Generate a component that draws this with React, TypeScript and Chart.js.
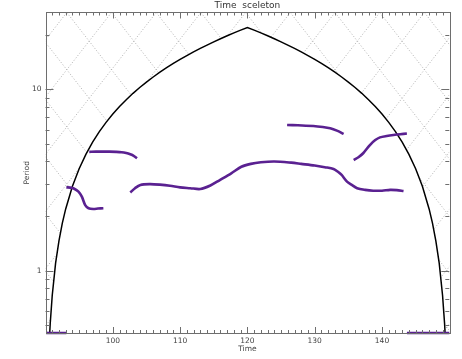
import React, { useEffect, useRef } from 'react';
import { Chart, registerables } from 'chart.js';

Chart.register(...registerables);

// ---- axes ----
const X_MIN = 90;
const X_MAX = 150;
const Y_MIN = 0.4535;
const Y_MAX = 26.5;
const xMajorTicks = [100, 110, 120, 130, 140];
const yMajorTicks = [1, 10];
const yMinorTicks = [0.5, 0.6, 0.7, 0.8, 0.9, 2, 3, 4, 5, 6, 7, 8, 9, 20];
const yLabelled = [1, 10];

// ---- cone of influence ----
const coiTime = [90.3, 90.5, 90.7, 91, 91.5, 92, 92.5, 93, 94, 95, 96, 97, 98, 99, 100, 101, 102, 103, 104, 105, 106, 107, 108, 109,
  110, 111, 112, 113, 114, 115, 116, 117, 118, 119, 120,
  121, 122, 123, 124, 125, 126, 127, 128, 129, 130, 131, 132, 133, 134, 135, 136, 137, 138, 139, 140, 141, 142, 143, 144, 145,
  146, 147, 147.5, 148, 148.5, 149, 149.3, 149.5, 149.7];
const coiPeriod = [0.22, 0.37, 0.51, 0.73, 1.1, 1.46, 1.83, 2.19, 2.92, 3.65, 4.38, 5.11, 5.84, 6.57, 7.3, 8.03, 8.76, 9.5, 10.23, 10.96,
  11.69, 12.42, 13.15, 13.88, 14.61, 15.34, 16.07, 16.8, 17.53, 18.26, 18.99, 19.72, 20.45, 21.18, 21.91,
  21.18, 20.45, 19.72, 18.99, 18.26, 17.53, 16.8, 16.07, 15.34, 14.61, 13.88, 13.15, 12.42, 11.69, 10.96, 10.23, 9.5, 8.76, 8.03,
  7.3, 6.57, 5.84, 5.11, 4.38, 3.65, 2.92, 2.19, 1.83, 1.46, 1.1, 0.73, 0.51, 0.37, 0.22];

// ---- skeleton ridges ----
const bottomLeftTime = [90.1, 93.1];
const bottomLeftPeriod = [0.4535, 0.4535];
const bottomRightTime = [143.7, 150];
const bottomRightPeriod = [0.4535, 0.4535];

const segATime = [96.5, 97.5, 98.5, 99.5, 100.5, 101.3, 102.0, 102.6, 103.1, 103.6];
const segAPeriod = [4.52, 4.53, 4.53, 4.53, 4.52, 4.5, 4.45, 4.38, 4.3, 4.17];

const segBTime = [93.1, 93.7, 94.2, 94.9, 95.4, 95.9, 96.4, 97.1, 97.8, 98.6];
const segBPeriod = [2.88, 2.87, 2.84, 2.73, 2.56, 2.3, 2.21, 2.19, 2.2, 2.21];

const segCTime = [102.6, 103.3, 104.1, 105.5, 107, 108.5, 110, 111.5, 113, 114.5, 115.9, 117.6, 119.1, 120.5, 122, 124, 126.5, 128,
  130, 131.5, 132.8, 133.5, 134.0, 134.8, 135.5, 136.3, 137.5, 138.7, 140, 141.2, 142.2, 143.2];
const segCPeriod = [2.7, 2.85, 2.97, 3.0, 2.98, 2.94, 2.88, 2.85, 2.82, 2.95, 3.16, 3.44, 3.74, 3.88, 3.96, 4.0, 3.94, 3.88,
  3.8, 3.72, 3.64, 3.5, 3.37, 3.1, 2.97, 2.85, 2.79, 2.76, 2.76, 2.79, 2.78, 2.75];

const segDTime = [125.9, 127.5, 129.8, 131.2, 132.3, 133.3, 134.3];
const segDPeriod = [6.36, 6.33, 6.28, 6.2, 6.1, 5.92, 5.68];

const segETime = [135.8, 136.5, 137.2, 138.2, 139.0, 139.7, 140.7, 141.7, 142.7, 143.7];
const segEPeriod = [4.07, 4.22, 4.44, 4.93, 5.25, 5.43, 5.53, 5.6, 5.65, 5.71];

const PURPLE = '#5a2191';
const FONT = 'DejaVu Sans';

const zip = (xs: number[], ys: number[]) => xs.map((x, i) => ({ x, y: ys[i] }));

const ridge = (xs: number[], ys: number[]) => ({
  data: zip(xs, ys),
  borderColor: PURPLE,
  borderWidth: 2.6,
  pointRadius: 0,
  tension: 0.3,
  clip: 3,
});

const hatchPlugin = {
  id: 'hatch',
  beforeDatasetsDraw(chart: any) {
    const { ctx, chartArea: a } = chart;
    const meta = chart.getDatasetMeta(chart.data.datasets.length - 1);
    const pts = meta.data;
    if (!pts || !pts.length) return;
    const w = a.right - a.left;
    const h = a.bottom - a.top;
    ctx.save();
    ctx.beginPath();
    ctx.rect(a.left, a.top, w, h);
    ctx.clip();
    ctx.beginPath();
    ctx.rect(a.left - 5, a.top - 5, w + 10, h + 10);
    ctx.moveTo(pts[0].x, a.bottom + 60);
    pts.forEach((p: any) => ctx.lineTo(p.x, p.y));
    ctx.lineTo(pts[pts.length - 1].x, a.bottom + 60);
    ctx.closePath();
    ctx.clip('evenodd');
    const s = 1.28;
    const sp = 44.7;
    const x0 = a.left + 21.3;
    ctx.strokeStyle = '#9c9c9c';
    ctx.lineWidth = 0.8;
    ctx.setLineDash([1, 2]);
    ctx.beginPath();
    const dx = (h + 20) / s;
    for (let k = -20; k <= 30; k++) {
      const xk = x0 + k * sp;
      ctx.moveTo(xk, a.top);
      ctx.lineTo(xk + dx, a.top + h + 20);
      ctx.moveTo(xk, a.top);
      ctx.lineTo(xk - dx, a.top + h + 20);
    }
    ctx.stroke();
    ctx.restore();
  },
};

const framePlugin = {
  id: 'frame',
  afterDatasetsDraw(chart: any) {
    const { ctx, chartArea: a, scales } = chart;
    const xs = scales.x;
    const ys = scales.y;
    ctx.save();
    ctx.strokeStyle = '#6e6e6e';
    ctx.lineWidth = 1;
    ctx.setLineDash([]);
    ctx.strokeRect(Math.round(a.left) + 0.5, Math.round(a.top) + 0.5, Math.round(a.right - a.left), Math.round(a.bottom - a.top));
    ctx.beginPath();
    for (let v = X_MIN + 1; v < X_MAX; v++) {
      const px = Math.round(xs.getPixelForValue(v)) + 0.5;
      const len = xMajorTicks.includes(v) ? 6 : 3;
      ctx.moveTo(px, a.bottom);
      ctx.lineTo(px, a.bottom - len);
      ctx.moveTo(px, a.top);
      ctx.lineTo(px, a.top + len);
    }
    const yt = [...yMajorTicks.map((v) => [v, 8]), ...yMinorTicks.map((v) => [v, 4])];
    yt.forEach(([v, len]) => {
      const py = Math.round(ys.getPixelForValue(v)) + 0.5;
      ctx.moveTo(a.left, py);
      ctx.lineTo(a.left + len, py);
      ctx.moveTo(a.right, py);
      ctx.lineTo(a.right - len, py);
    });
    ctx.stroke();
    ctx.restore();
  },
};

export default function App() {
  const ref = useRef<HTMLCanvasElement | null>(null);
  useEffect(() => {
    if (!ref.current) return;
    const chart = new Chart(ref.current, {
      type: 'line',
      data: {
        datasets: [
          ridge(bottomLeftTime, bottomLeftPeriod),
          ridge(bottomRightTime, bottomRightPeriod),
          ridge(segATime, segAPeriod),
          ridge(segBTime, segBPeriod),
          ridge(segCTime, segCPeriod),
          ridge(segDTime, segDPeriod),
          ridge(segETime, segEPeriod),
          {
            data: zip(coiTime, coiPeriod),
            borderColor: '#000',
            borderWidth: 1.5,
            pointRadius: 0,
            tension: 0,
          },
        ] as any,
      },
      options: {
        animation: false,
        responsive: false,
        devicePixelRatio: 1,
        layout: { padding: { left: 0, right: 12.7, top: 0, bottom: 0 } },
        plugins: {
          legend: { display: false },
          tooltip: { enabled: false },
          title: {
            display: true,
            text: 'Time  sceleton',
            fullSize: false,
            color: '#333',
            font: { family: FONT, size: 9, weight: 'normal', lineHeight: 1.2 },
            padding: { top: 0.5, bottom: 1.2 },
          },
        },
        scales: {
          x: {
            type: 'linear',
            min: X_MIN,
            max: X_MAX,
            grid: { display: false, drawTicks: false },
            border: { display: false },
            ticks: {
              stepSize: 10,
              autoSkip: false,
              maxRotation: 0,
              padding: 4,
              color: '#444',
              font: { family: FONT, size: 7.5 },
              callback: (v: any) => (xMajorTicks.includes(Number(v)) ? String(v) : ''),
            },
            title: {
              display: true,
              text: 'Time',
              color: '#444',
              font: { family: FONT, size: 7.5, lineHeight: 1.2 },
              padding: { top: 0, bottom: 5.5 },
            },
            afterFit: (s: any) => { s.height = 26; },
          },
          y: {
            type: 'logarithmic',
            min: Y_MIN,
            max: Y_MAX,
            grid: { display: false, drawTicks: false },
            border: { display: false },
            ticks: {
              autoSkip: false,
              padding: 4,
              color: '#444',
              font: { family: FONT, size: 7.5 },
              callback: (v: any) => (yLabelled.includes(Number(v)) ? String(v) : ''),
            },
            title: {
              display: true,
              text: 'Period',
              color: '#444',
              font: { family: FONT, size: 7.5, lineHeight: 1.2 },
              padding: { top: 22.5, bottom: 0 },
            },
            afterFit: (s: any) => { s.width = 45.5; },
          },
        },
      } as any,
      plugins: [hatchPlugin, framePlugin],
    });
    return () => chart.destroy();
  }, []);
  return (
    <div style={{ position: 'absolute', left: 0, top: 0, width: 462, height: 359, background: '#fff' }}>
      <canvas ref={ref} width={462} height={359} style={{ display: 'block' }} />
    </div>
  );
}
